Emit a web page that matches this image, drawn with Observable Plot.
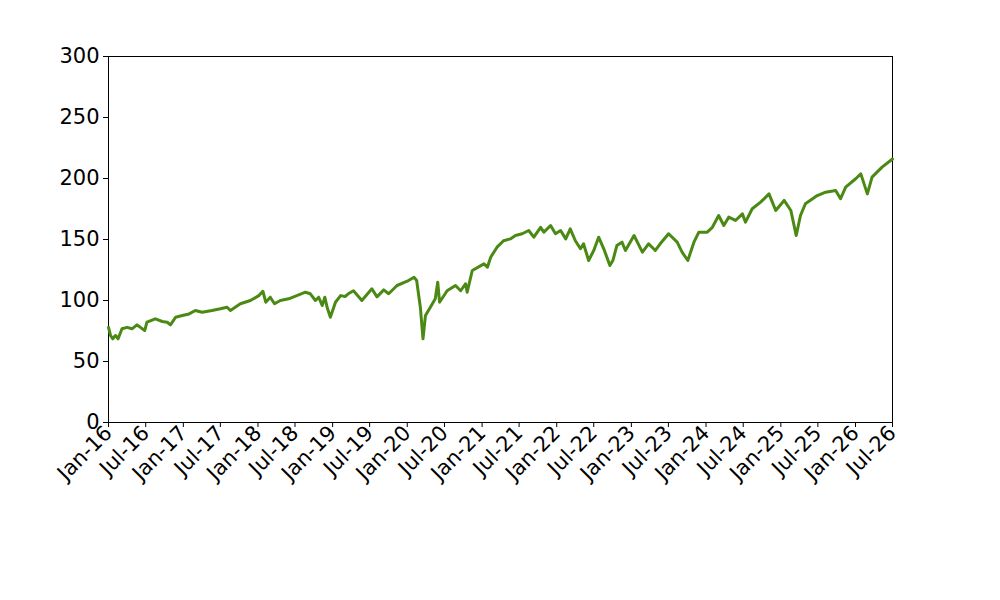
<!DOCTYPE html>
<html>
<head>
<meta charset="utf-8">
<script src="https://cdn.jsdelivr.net/npm/d3@7"></script>
<script src="https://cdn.jsdelivr.net/npm/@observablehq/plot@0.6"></script>
<style>
  body { margin: 0; background: #fff; }
  #chart { width: 1000px; height: 600px; }
  svg { font-family: "DejaVu Sans", sans-serif; }
</style>
</head>
<body>
<div id="chart"></div>
<script>
const dates = [
  "2016-01-01","2016-01-11","2016-01-22","2016-02-04","2016-02-17","2016-03-07","2016-04-01","2016-04-25",
  "2016-05-19","2016-06-05","2016-06-26","2016-07-07","2016-08-17","2016-09-20","2016-10-14","2016-10-30",
  "2016-11-24","2016-12-27","2017-01-29","2017-03-01","2017-04-03","2017-05-21","2017-07-01","2017-08-03",
  "2017-08-19","2017-10-07","2017-11-25","2018-01-05","2018-01-25","2018-02-08","2018-03-02","2018-03-23",
  "2018-04-20","2018-05-31","2018-07-10","2018-08-21","2018-09-14","2018-10-09","2018-10-25","2018-11-11",
  "2018-11-24","2018-12-05","2018-12-21","2019-01-15","2019-02-09","2019-03-03","2019-03-23","2019-04-13",
  "2019-05-24","2019-07-12","2019-08-06","2019-09-08","2019-10-02","2019-11-12","2020-01-01","2020-02-03",
  "2020-02-16","2020-03-05","2020-03-18","2020-03-30","2020-04-23","2020-05-17","2020-05-29","2020-06-07",
  "2020-07-14","2020-08-24","2020-09-18","2020-10-12","2020-10-20","2020-11-14","2021-01-10","2021-01-27",
  "2021-02-12","2021-03-15","2021-04-16","2021-05-19","2021-06-13","2021-07-16","2021-08-17","2021-09-11",
  "2021-10-14","2021-10-30","2021-12-02","2021-12-26","2022-01-20","2022-02-14","2022-03-08","2022-04-02",
  "2022-04-27","2022-05-12","2022-06-06","2022-07-01","2022-07-25","2022-08-19","2022-09-18","2022-10-03",
  "2022-10-22","2022-11-16","2022-12-03","2023-01-14","2023-02-24","2023-03-26","2023-04-28","2023-05-22",
  "2023-07-02","2023-08-13","2023-09-06","2023-10-04","2023-11-03","2023-11-27","2024-01-07","2024-02-01",
  "2024-03-03","2024-03-28","2024-04-21","2024-05-24","2024-06-27","2024-07-12","2024-08-14","2024-09-24",
  "2024-11-04","2024-12-07","2025-01-17","2025-02-19","2025-03-17","2025-04-07","2025-05-01","2025-06-28",
  "2025-08-08","2025-09-26","2025-10-20","2025-11-14","2026-01-02","2026-01-27","2026-02-28","2026-03-23",
  "2026-05-11","2026-07-01"
];
const values = [
  78, 71.3, 68.6, 71.3, 68.6, 76.8, 78, 76.8,
  80, 78, 75.4, 82.2, 85, 82.8, 82.2, 80,
  86.3, 87.7, 89, 91.8, 90.4, 91.8, 93.2, 94.5,
  91.8, 97.3, 100, 104, 107.6, 98.6, 102.7, 97.3,
  100, 101.4, 104, 106.8, 105.5, 100, 102.7, 95.9,
  102.7, 94.5, 86.3, 98.6, 104, 103.3, 106, 108,
  100, 109.6, 103, 108.7, 105.5, 112.3, 115.8, 119,
  116.4, 94.5, 68.6, 87.7, 94.5, 101.4, 115, 98.6,
  108, 112.3, 108, 113.7, 106.8, 124.6, 130, 127.3,
  135.5, 143.7, 149, 150.5, 153.3, 154.7, 157.4, 151.9,
  160, 156, 161.5, 154.7, 157.4, 150.5, 158.7, 149,
  142.4, 146.5, 132.8, 141, 151.9, 142.4, 128.7, 133,
  145, 147.8, 141, 153.3, 139.6, 146.5, 141, 146.5,
  154.7, 147.8, 139.6, 132.8, 147.8, 156, 156, 160,
  169.7, 161.5, 168.3, 165.6, 171, 164.2, 175.2, 180.6,
  187.4, 173.8, 182, 173.8, 153.3, 169.7, 179.3, 186,
  188.8, 190.2, 183.4, 192.9, 199.8, 203.8, 187.4, 201.1,
  209.3, 216
];
const yTicks = [0, 50, 100, 150, 200, 250, 300];
const xTickDates = d3.utcMonth.every(6).range(new Date("2016-01-01"), new Date("2026-07-02"));

const data = dates.map((d, i) => ({date: new Date(d), value: values[i]}));

const chart = Plot.plot({
  width: 1000,
  height: 600,
  marginLeft: 108,
  marginRight: 108,
  marginTop: 56,
  marginBottom: 178,
  style: {fontFamily: "DejaVu Sans, sans-serif", fontSize: "21px", color: "#000", background: "#fff"},
  x: {type: "utc", domain: [new Date("2016-01-01"), new Date("2026-07-01")], label: null},
  y: {domain: [0, 300], label: null},
  marks: [
    Plot.frame({stroke: "#000", strokeWidth: 1}),
    Plot.axisY({ticks: yTicks, tickSize: 5, tickPadding: 4, fontSize: 21, label: null}),
    Plot.axisX({ticks: xTickDates, tickFormat: d3.utcFormat("%b-%y"), tickRotate: -45, tickSize: 5, tickPadding: 2, fontSize: 21, label: null}),
    Plot.line(data, {x: "date", y: "value", stroke: "#4a8a14", strokeWidth: 3, strokeLinejoin: "round"})
  ]
});
document.getElementById("chart").appendChild(chart);
</script>
</body>
</html>
